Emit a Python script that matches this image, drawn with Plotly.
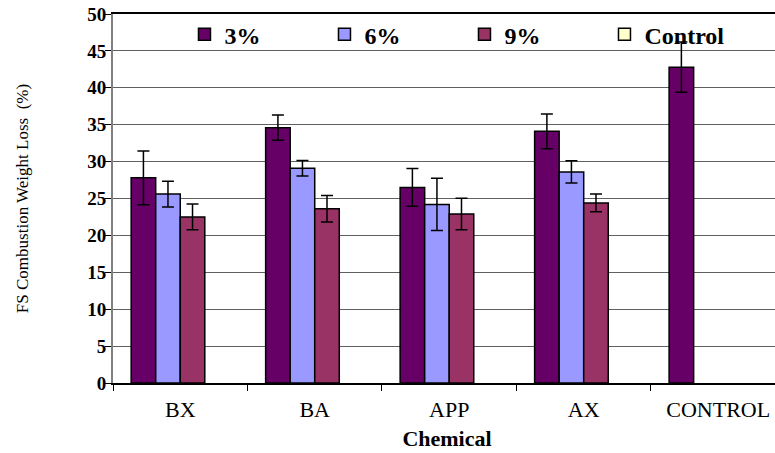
import plotly.graph_objects as go

categories = ["BX", "BA", "APP", "AX", "CONTROL"]
series_names = ["3%", "6%", "9%", "Control"]
vals_3 = [27.8, 34.6, 26.5, 34.1, 42.8]
err_3 = [3.65, 1.7, 2.55, 2.35, 3.4]
vals_6 = [25.6, 29.1, 24.2, 28.6, None]
err_6 = [1.75, 1.05, 3.55, 1.5, 0]
vals_9 = [22.5, 23.6, 22.9, 24.4, None]
err_9 = [1.75, 1.8, 2.15, 1.2, 0]
vals_ctrl = [None, None, None, None, None]
err_ctrl = [0, 0, 0, 0, 0]
y_ticks = [0, 5, 10, 15, 20, 25, 30, 35, 40, 45, 50]

colors = ["#660066", "#9999FF", "#993366", "#FFFFCC"]
values = [vals_3, vals_6, vals_9, vals_ctrl]
errors = [err_3, err_6, err_9, err_ctrl]

FONT = "Liberation Serif"

fig = go.Figure()
for name, v, e, c in zip(series_names, values, errors, colors):
    fig.add_trace(go.Bar(
        x=categories, y=v, name="<b>" + name + "</b>",
        marker=dict(color=c, line=dict(color="black", width=1.5)),
        error_y=dict(type="data", array=e, visible=True,
                     color="black", thickness=1.5, width=6),
    ))

fig.update_layout(
    width=781, height=453,
    margin=dict(l=113, r=0, t=14, b=70),
    paper_bgcolor="white", plot_bgcolor="white",
    barmode="group", bargap=0.27, bargroupgap=0,
    font=dict(family=FONT, color="black"),
    legend=dict(
        orientation="h", x=0.107, xanchor="left", y=0.944, yanchor="middle",
        font=dict(family=FONT, size=24, color="black"),
        entrywidth=95, entrywidthmode="pixels",
        bgcolor="rgba(0,0,0,0)", itemwidth=30, tracegroupgap=0,
    ),
    xaxis=dict(
        type="category", range=[-0.5, 4.467], automargin=False,
        showline=True, linecolor="black", linewidth=1.5, mirror=True,
        ticks="outside", tickson="boundaries", ticklen=6, tickcolor="black",
        ticklabelstandoff=6,
        showgrid=False,
        tickfont=dict(family=FONT, size=22, color="black"),
        title=dict(text="<b>Chemical</b>", font=dict(family=FONT, size=22, color="black"), standoff=9),
    ),
    yaxis=dict(
        range=[0, 50], tickvals=y_ticks,
        ticktext=["<b>%d</b>" % t for t in y_ticks],
        automargin=False, mirror=False,
        showline=True, linecolor="#808080", linewidth=2,
        ticks="outside", ticklen=6, tickcolor="black",
        ticklabelstandoff=-5,
        showgrid=True, gridcolor="#606060", gridwidth=1,
        tickfont=dict(family=FONT, size=19, color="black"),
        title=dict(text="FS Combustion Weight Loss  (%)", font=dict(family=FONT, size=17, color="black"), standoff=54),
        zeroline=False,
    ),
)

fig.write_html("out.html", config={"displayModeBar": False},
               post_script="document.body.style.margin='0';document.body.style.overflow='hidden';document.documentElement.style.overflow='hidden';")
